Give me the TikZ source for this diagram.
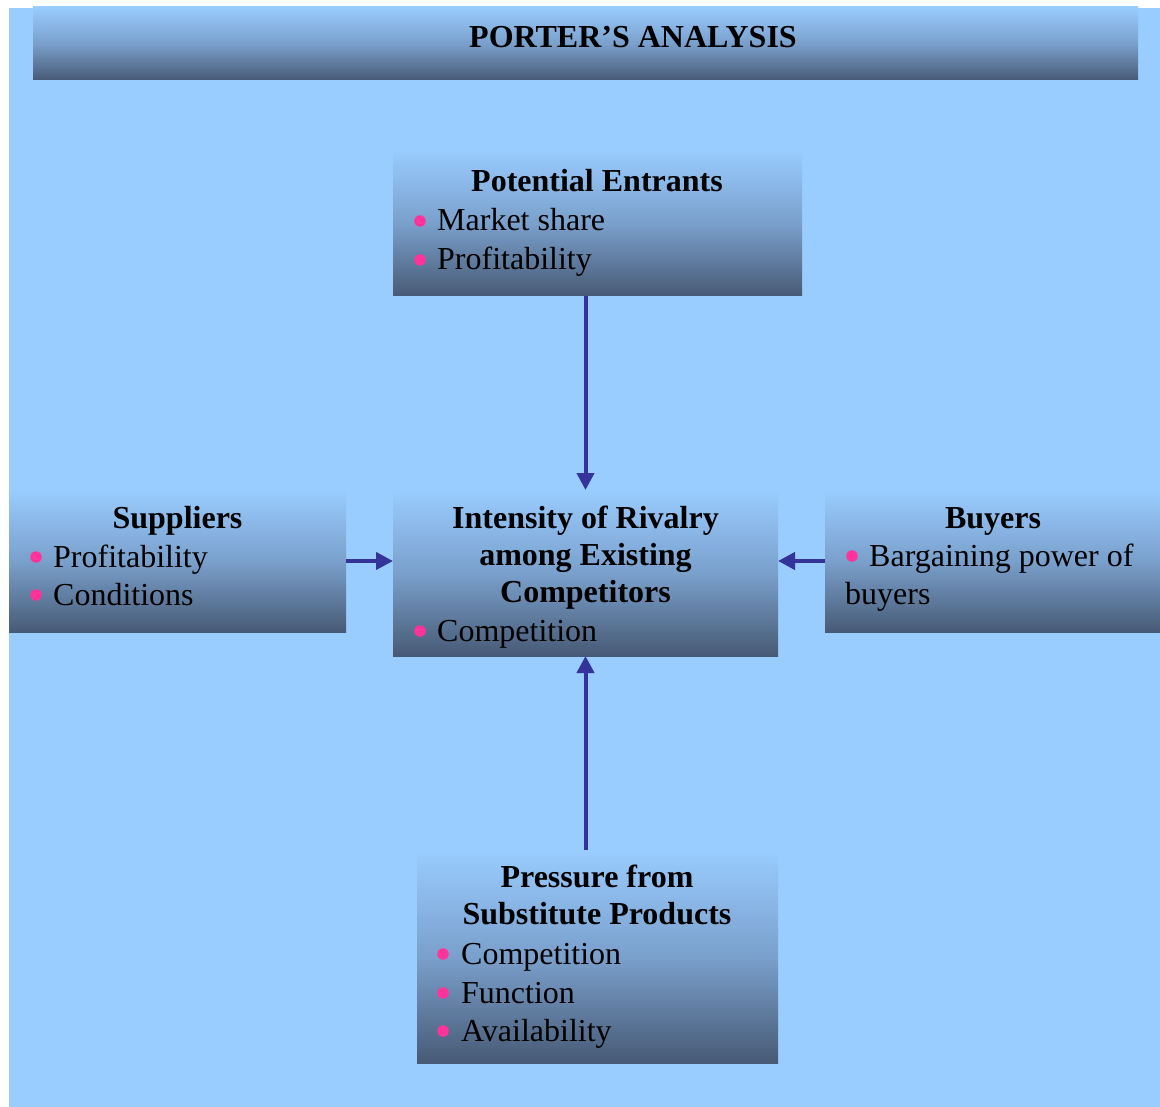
\documentclass[tikz,border=0pt]{standalone}
\usepackage{fontspec}
\setmainfont{Liberation Serif}
\usetikzlibrary{arrows.meta}
\definecolor{sky}{RGB}{153,204,255}
\definecolor{slate}{RGB}{71,90,117}
\definecolor{midblue}{RGB}{122,160,204}
\definecolor{arrowblue}{RGB}{51,51,153}
\definecolor{bulletpink}{RGB}{255,51,153}
\begin{document}
\begin{tikzpicture}[x=1pt,y=-1pt,
  panel/.style={anchor=north west, inner sep=0pt, outer sep=0pt,
    top color=sky, bottom color=slate, middle color=midblue},
  head/.style={anchor=base, inner sep=0pt, font=\bfseries\fontsize{32}{39}\selectfont},
  item/.style={anchor=base west, inner sep=0pt, font=\fontsize{32}{39}\selectfont},
  dot/.style={circle, fill=bulletpink, minimum size=11.5pt, inner sep=0pt},
  force/.style={draw=arrowblue, line width=4pt,
    -{Triangle[length=17pt,width=17pt]}}]
\path[use as bounding box] (0,0) rectangle (1160,1107);
\fill[sky] (9,8) rectangle (1160,1107);

% title bar
\node[panel, minimum width=1105pt, minimum height=73pt] (title) at (33,7) {};
\node[head] (titletext) at (633,48) {PORTER’S ANALYSIS};

% the five panels
\node[panel, minimum width=409pt, minimum height=146pt] (pe)  at (393,150) {};
\node[panel, minimum width=337pt, minimum height=142pt] (sup) at (9,490) {};
\node[panel, minimum width=385pt, minimum height=166pt] (ctr) at (393,490) {};
\node[panel, minimum width=335pt, minimum height=142pt] (buy) at (825,490) {};
\node[panel, minimum width=361pt, minimum height=213pt] (sub) at (417,850) {};

% Potential Entrants
\node[head] (peh) at (597,192) {Potential Entrants};
\node[dot] (ped1) at (420,221) {};
\node[item] (pei1) at (437,231) {Market share};
\node[dot] (ped2) at (420,260) {};
\node[item] (pei2) at (437,270) {Profitability};

% Suppliers
\node[head] (suph) at (177.5,528) {Suppliers};
\node[dot] (supd1) at (36,557) {};
\node[item] (supi1) at (53,567) {Profitability};
\node[dot] (supd2) at (36,595) {};
\node[item] (supi2) at (53,605) {Conditions};

% Intensity of rivalry
\node[head] (ctrh1) at (585.5,528) {Intensity of Rivalry};
\node[head] (ctrh2) at (585.5,565) {among Existing};
\node[head] (ctrh3) at (585.5,602) {Competitors};
\node[dot] (ctrd1) at (420,631) {};
\node[item] (ctri1) at (437,641) {Competition};

% Buyers
\node[head] (buyh) at (993,528) {Buyers};
\node[dot] (buyd1) at (852,556) {};
\node[item] (buyi1) at (869,566) {Bargaining power of};
\node[item] (buyi2) at (845,604) {buyers};

% Substitutes
\node[head] (subh1) at (597,887) {Pressure from};
\node[head] (subh2) at (597,924) {Substitute Products};
\node[dot] (subd1) at (443,954) {};
\node[item] (subi1) at (461,964) {Competition};
\node[dot] (subd2) at (443,993) {};
\node[item] (subi2) at (461,1003) {Function};
\node[dot] (subd3) at (443,1031) {};
\node[item] (subi3) at (461,1041) {Availability};

% forces acting on the rivalry
\draw[force] (pe.south -| ctr.north) -- (ctr.north);
\draw[force] (sub.north -| ctr.south) -- (ctr.south);
\draw[force] (sup.east) -- (sup.east -| ctr.west);
\draw[force] (buy.west) -- (buy.west -| ctr.east);
\end{tikzpicture}
\end{document}
